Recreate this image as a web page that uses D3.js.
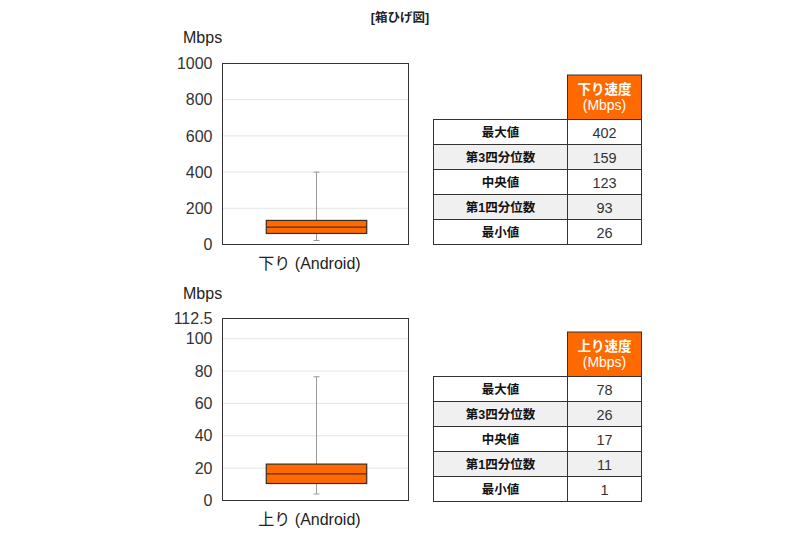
<!DOCTYPE html>
<html>
<head>
<meta charset="utf-8">
<script src="https://cdn.jsdelivr.net/npm/d3@7"></script>
<style>
  body { margin: 0; background: #fff; }
  text { font-family: "Liberation Sans", "Noto Sans CJK JP", sans-serif; }
</style>
</head>
<body>
<div id="canvas"></div>
<script>
// data
var title = "[箱ひげ図]";
var categories = ["下り (Android)", "上り (Android)"];
var unitLabel = "Mbps";
// plotted box values (max, q3, median, q1, min) as drawn in the chart
var downBox = [400, 133, 96, 61, 22];
var upBox = [76.5, 22.5, 16.5, 10.5, 4];
var downTicks = [0, 200, 400, 600, 800, 1000];
var upTicks = [0, 20, 40, 60, 80, 100, 112.5];
// table
var statLabels = ["最大値", "第3四分位数", "中央値", "第1四分位数", "最小値"];
var tableHeaders = [["下り速度", "(Mbps)"], ["上り速度", "(Mbps)"]];
var downTable = [402, 159, 123, 93, 26];
var upTable = [78, 26, 17, 11, 1];

var width = 798, height = 537;
var orange = "#ff6a00";

var svg = d3.select("#canvas").append("svg")
  .attr("width", width)
  .attr("height", height);

svg.append("rect").attr("width", width).attr("height", height).attr("fill", "#fff");

svg.append("text")
  .attr("x", 400).attr("y", 22)
  .attr("text-anchor", "middle")
  .attr("font-size", 12.5).attr("font-weight", "bold")
  .attr("fill", "#222")
  .text(title);

function boxChart(cfg) {
  var g = svg.append("g");
  var y = d3.scaleLinear().domain([0, cfg.ticks[cfg.ticks.length - 1]]).range([cfg.bottom, cfg.top]);
  var x = d3.scaleBand().domain([cfg.category]).range([cfg.left, cfg.right]);

  // gridlines
  g.selectAll("line.grid")
    .data(cfg.ticks.slice(1, -1))
    .enter().append("line")
    .attr("class", "grid")
    .attr("x1", cfg.left).attr("x2", cfg.right)
    .attr("y1", function(d) { return y(d); })
    .attr("y2", function(d) { return y(d); })
    .attr("stroke", "#e4e4e4").attr("stroke-width", 1);

  // y axis labels
  var axis = d3.axisLeft(y).tickValues(cfg.ticks).tickSize(0).tickPadding(10)
    .tickFormat(function(d) { return String(d); });
  var ag = g.append("g").attr("transform", "translate(" + cfg.left + ",0)").call(axis);
  ag.select(".domain").remove();
  ag.selectAll("text")
    .attr("font-size", 16)
    .attr("fill", "#333")
    .style("font-family", "'Liberation Sans', sans-serif");

  // unit label
  g.append("text")
    .attr("x", 183).attr("y", cfg.unitY)
    .attr("font-size", 16).attr("fill", "#222")
    .text(unitLabel);

  // box
  var cx = x(cfg.category) + x.bandwidth() / 2 + 1;
  var bw = x.bandwidth() * 0.54;
  var v = cfg.box;
  g.append("line")
    .attr("x1", cx).attr("x2", cx)
    .attr("y1", y(v[0])).attr("y2", y(v[4]))
    .attr("stroke", "#999").attr("stroke-width", 1);
  [v[0], v[4]].forEach(function(d) {
    g.append("line")
      .attr("x1", cx - 3).attr("x2", cx + 3)
      .attr("y1", y(d)).attr("y2", y(d))
      .attr("stroke", "#999").attr("stroke-width", 1);
  });
  g.append("rect")
    .attr("x", cx - bw / 2).attr("y", y(v[1]))
    .attr("width", bw).attr("height", y(v[3]) - y(v[1]))
    .attr("fill", orange).attr("stroke", "#3a2a20").attr("stroke-width", 1.2);
  g.append("line")
    .attr("x1", cx - bw / 2).attr("x2", cx + bw / 2)
    .attr("y1", y(v[2])).attr("y2", y(v[2]))
    .attr("stroke", "#5a2a10").attr("stroke-width", 1.2);

  // frame
  g.append("rect")
    .attr("x", cfg.left).attr("y", cfg.top)
    .attr("width", cfg.right - cfg.left).attr("height", cfg.bottom - cfg.top)
    .attr("fill", "none").attr("stroke", "#333").attr("stroke-width", 1);

  // category label
  g.append("text")
    .attr("x", x(cfg.category) + x.bandwidth() / 2 - 6)
    .attr("y", cfg.bottom + 24)
    .attr("text-anchor", "middle")
    .attr("font-size", 16).attr("fill", "#222")
    .text(cfg.category);
}

function statTable(cfg) {
  var g = svg.append("g");
  var rows = d3.scaleBand().domain(statLabels).range([cfg.headTop + 44.5, cfg.headTop + 44.5 + 125]);
  var colL = 433.5, colM = 567.5, colR = 641.5;

  // header
  g.append("rect")
    .attr("x", colM).attr("y", cfg.headTop)
    .attr("width", colR - colM).attr("height", 44.5)
    .attr("fill", orange).attr("stroke", "#333").attr("stroke-width", 1);
  g.append("text")
    .attr("x", (colM + colR) / 2).attr("y", cfg.headTop + 19)
    .attr("text-anchor", "middle").attr("font-size", 13.5).attr("font-weight", "bold")
    .attr("fill", "#fff").text(cfg.header[0]);
  g.append("text")
    .attr("x", (colM + colR) / 2).attr("y", cfg.headTop + 35)
    .attr("text-anchor", "middle").attr("font-size", 14)
    .attr("fill", "#fff").text(cfg.header[1]);

  var r = g.selectAll("g.row")
    .data(statLabels)
    .enter().append("g").attr("class", "row");
  r.append("rect")
    .attr("x", colL).attr("y", function(d) { return rows(d); })
    .attr("width", colR - colL).attr("height", rows.bandwidth())
    .attr("fill", function(d, i) { return i % 2 === 1 ? "#f0f0f0" : "#fff"; })
    .attr("stroke", "#333").attr("stroke-width", 1);
  r.append("line")
    .attr("x1", colM).attr("x2", colM)
    .attr("y1", function(d) { return rows(d); })
    .attr("y2", function(d) { return rows(d) + rows.bandwidth(); })
    .attr("stroke", "#333").attr("stroke-width", 1);
  r.append("text")
    .attr("x", (colL + colM) / 2)
    .attr("y", function(d) { return rows(d) + rows.bandwidth() / 2 + 5; })
    .attr("text-anchor", "middle").attr("font-size", 12.5).attr("font-weight", "bold")
    .attr("fill", "#111")
    .text(function(d) { return d; });
  r.append("text")
    .attr("x", (colM + colR) / 2)
    .attr("y", function(d) { return rows(d) + rows.bandwidth() / 2 + 5.5; })
    .attr("text-anchor", "middle").attr("font-size", 14.5)
    .attr("fill", "#333")
    .text(function(d, i) { return cfg.values[i]; });
}

boxChart({ category: categories[0], box: downBox, ticks: downTicks,
  left: 222.5, right: 408.5, top: 63.5, bottom: 244.5, unitY: 43 });
boxChart({ category: categories[1], box: upBox, ticks: upTicks,
  left: 222.5, right: 408.5, top: 318.5, bottom: 500.5, unitY: 299 });

statTable({ header: tableHeaders[0], values: downTable, headTop: 75 });
statTable({ header: tableHeaders[1], values: upTable, headTop: 332 });
</script>
</body>
</html>
